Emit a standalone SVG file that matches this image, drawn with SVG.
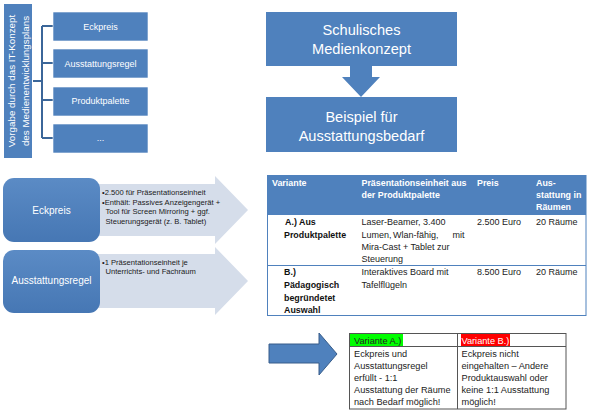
<svg xmlns="http://www.w3.org/2000/svg" width="596" height="419" viewBox="0 0 596 419">
<defs>
<linearGradient id="rg" x1="0" y1="0" x2="0" y2="1">
<stop offset="0" stop-color="#5B8BC5"/>
<stop offset="1" stop-color="#4677B4"/>
</linearGradient>
</defs>
<style>
text{font-family:"Liberation Sans",Arial,sans-serif}
.blue{fill:#4F81BD}
.wt{fill:#fff}
.sm{font-size:9px;fill:#fff;text-anchor:middle}
.big{font-size:14.6px;fill:#fff;text-anchor:middle}
.note{font-size:7.6px;fill:#1a1a1a}
.th{font-size:8.9px;font-weight:bold;fill:#fff}
.tb{font-size:8.9px;font-weight:bold;fill:#111}
.td{font-size:9px;fill:#222}
.bt{font-size:9.2px;fill:#222}
.lab{font-size:10px;fill:#fff;text-anchor:middle}
</style>
<rect width="596" height="419" fill="#fff"/>

<g id="vorgabe">
<rect x="4" y="4" width="28" height="154" class="blue"/>
<text transform="translate(14.5,81) rotate(-90)" font-size="9.8" fill="#fff" text-anchor="middle">Vorgabe durch das IT-Konzept</text>
<text transform="translate(28.5,81) rotate(-90)" font-size="9.8" fill="#fff" text-anchor="middle">des Medienentwicklungsplans</text>
</g>

<g id="connectors" fill="none" stroke="#3B6699" stroke-width="2">
<path d="M33,81 H42 M42,26 V138 M42,26 H53 M42,63 H53 M42,100 H53 M42,138 H53"/>
</g>

<g id="box-eckpreis-top">
<rect x="53" y="12" width="95" height="29" class="blue" stroke="#fff" stroke-width="0.6"/>
<text x="100.5" y="29.5" class="sm">Eckpreis</text>
</g>
<g id="box-ausstattungsregel-top">
<rect x="53" y="49" width="95" height="29" class="blue" stroke="#fff" stroke-width="0.6"/>
<text x="100.5" y="66.5" class="sm">Ausstattungsregel</text>
</g>
<g id="box-produktpalette">
<rect x="53" y="87" width="95" height="29" class="blue" stroke="#fff" stroke-width="0.6"/>
<text x="100.5" y="104" class="sm">Produktpalette</text>
</g>
<g id="box-dots">
<rect x="53" y="124" width="95" height="29" class="blue" stroke="#fff" stroke-width="0.6"/>
<text x="100.5" y="141" class="sm">...</text>
</g>

<g id="medienkonzept">
<rect x="266" y="12" width="191" height="54" class="blue"/>
<text x="361.5" y="35" class="big">Schulisches</text>
<text x="361.5" y="53.5" class="big">Medienkonzept</text>
</g>
<g id="down-arrow">
<polygon points="350,66 372,66 372,77 380,77 361,97 342,77 350,77" class="blue"/>
</g>
<g id="beispiel">
<rect x="266" y="97" width="191" height="55" class="blue"/>
<text x="361.5" y="122" class="big">Beispiel für</text>
<text x="361.5" y="141" class="big">Ausstattungsbedarf</text>
</g>

<g id="arrow-eckpreis">
<polygon points="90,184 215,184 215,176 248,210 215,244 215,236 90,236" fill="#D5DDEA"/>
<text class="note"><tspan x="102" y="194.5">•2.500 für Präsentationseinheit</tspan><tspan x="102" y="205">•Enthält: Passives Anzeigengerät +</tspan><tspan x="105.5" y="214.3">Tool für Screen Mirroring + ggf.</tspan><tspan x="105.5" y="223.7">Steuerungsgerät (z. B. Tablet)</tspan></text>
</g>
<g id="eckpreis">
<rect x="3" y="178" width="97" height="64" rx="11" fill="url(#rg)"/>
<text x="51.5" y="213.5" class="lab">Eckpreis</text>
</g>

<g id="arrow-ausstattungsregel">
<polygon points="90,254 215,254 215,247 248,281 215,315 215,308 90,308" fill="#D5DDEA"/>
<text class="note"><tspan x="102" y="264.5">•1 Präsentationseinheit je</tspan><tspan x="105.5" y="274">Unterrichts- und Fachraum</tspan></text>
</g>
<g id="ausstattungsregel">
<rect x="3" y="250" width="97" height="63" rx="11" fill="url(#rg)"/>
<text x="51.5" y="284" class="lab">Ausstattungsregel</text>
</g>

<g id="table">
<rect x="267" y="175" width="319" height="40" class="blue"/>
<rect x="267.5" y="175.5" width="318.5" height="140" fill="none" stroke="#4F81BD" stroke-width="1"/>
<line x1="267" y1="265.5" x2="586" y2="265.5" stroke="#4F81BD" stroke-width="1"/>
<text class="th"><tspan x="272" y="186.3">Variante</tspan></text>
<text class="th"><tspan x="361.5" y="186.3">Präsentationseinheit aus</tspan><tspan x="361.5" y="198.3">der Produktpalette</tspan></text>
<text class="th"><tspan x="477" y="186.3">Preis</tspan></text>
<text class="th"><tspan x="536" y="186.3">Aus-</tspan><tspan x="536" y="198.3">stattung in</tspan><tspan x="536" y="210.3">Räumen</tspan></text>
<text class="tb"><tspan x="285" y="225">A.) Aus</tspan><tspan x="284" y="237.5">Produktpalette</tspan></text>
<text class="td"><tspan x="361.5" y="225">Laser-Beamer, 3.400</tspan><tspan x="361.5" y="237.5">Lumen,</tspan><tspan x="393" y="237.5">Wlan-fähig,</tspan><tspan x="452.5" y="237.5">mit</tspan><tspan x="361.5" y="250">Mira-Cast + Tablet zur</tspan><tspan x="361.5" y="262">Steuerung</tspan></text>
<text class="td" x="477" y="225">2.500 Euro</text>
<text class="td" x="536" y="225">20 Räume</text>
<text class="tb"><tspan x="284" y="275">B.)</tspan><tspan x="284" y="288">Pädagogisch</tspan><tspan x="284" y="300.5">begründetet</tspan><tspan x="284" y="312.5">Auswahl</tspan></text>
<text class="td"><tspan x="361.5" y="275">Interaktives Board mit</tspan><tspan x="361.5" y="288">Tafelflügeln</tspan></text>
<text class="td" x="477" y="275">8.500 Euro</text>
<text class="td" x="536" y="275">20 Räume</text>
</g>

<g id="bottom-arrow">
<polygon points="269,344 319,344 319,333 337,354 319,375 319,363 269,363" class="blue" stroke="#385D8A" stroke-width="1"/>
</g>

<g id="result-table">
<rect x="350" y="334" width="53" height="12" fill="#00FF00"/>
<rect x="461" y="334" width="49" height="12" fill="#FF0000"/>
<rect x="349.5" y="333.5" width="216.5" height="75.5" fill="none" stroke="#555" stroke-width="1"/>
<line x1="349.5" y1="346.5" x2="566" y2="346.5" stroke="#555" stroke-width="1"/>
<line x1="457.5" y1="333.5" x2="457.5" y2="409" stroke="#555" stroke-width="1"/>
<text class="bt" x="354" y="343.5">Variante A.)</text>
<text class="bt" x="461.5" y="343.5" fill="#fff" style="fill:#fff">Variante B.)</text>
<text class="bt"><tspan x="354" y="356.5">Eckpreis und</tspan><tspan x="354" y="368.7">Ausstattungsregel</tspan><tspan x="354" y="380.9">erfüllt  - 1:1</tspan><tspan x="354" y="393.1">Ausstattung der Räume</tspan><tspan x="354" y="405.3">nach Bedarf möglich!</tspan></text>
<text class="bt"><tspan x="461.5" y="356.5">Eckpreis nicht</tspan><tspan x="461.5" y="368.7">eingehalten – Andere</tspan><tspan x="461.5" y="380.9">Produktauswahl oder</tspan><tspan x="461.5" y="393.1">keine 1:1 Ausstattung</tspan><tspan x="461.5" y="405.3">möglich!</tspan></text>
</g>
</svg>
